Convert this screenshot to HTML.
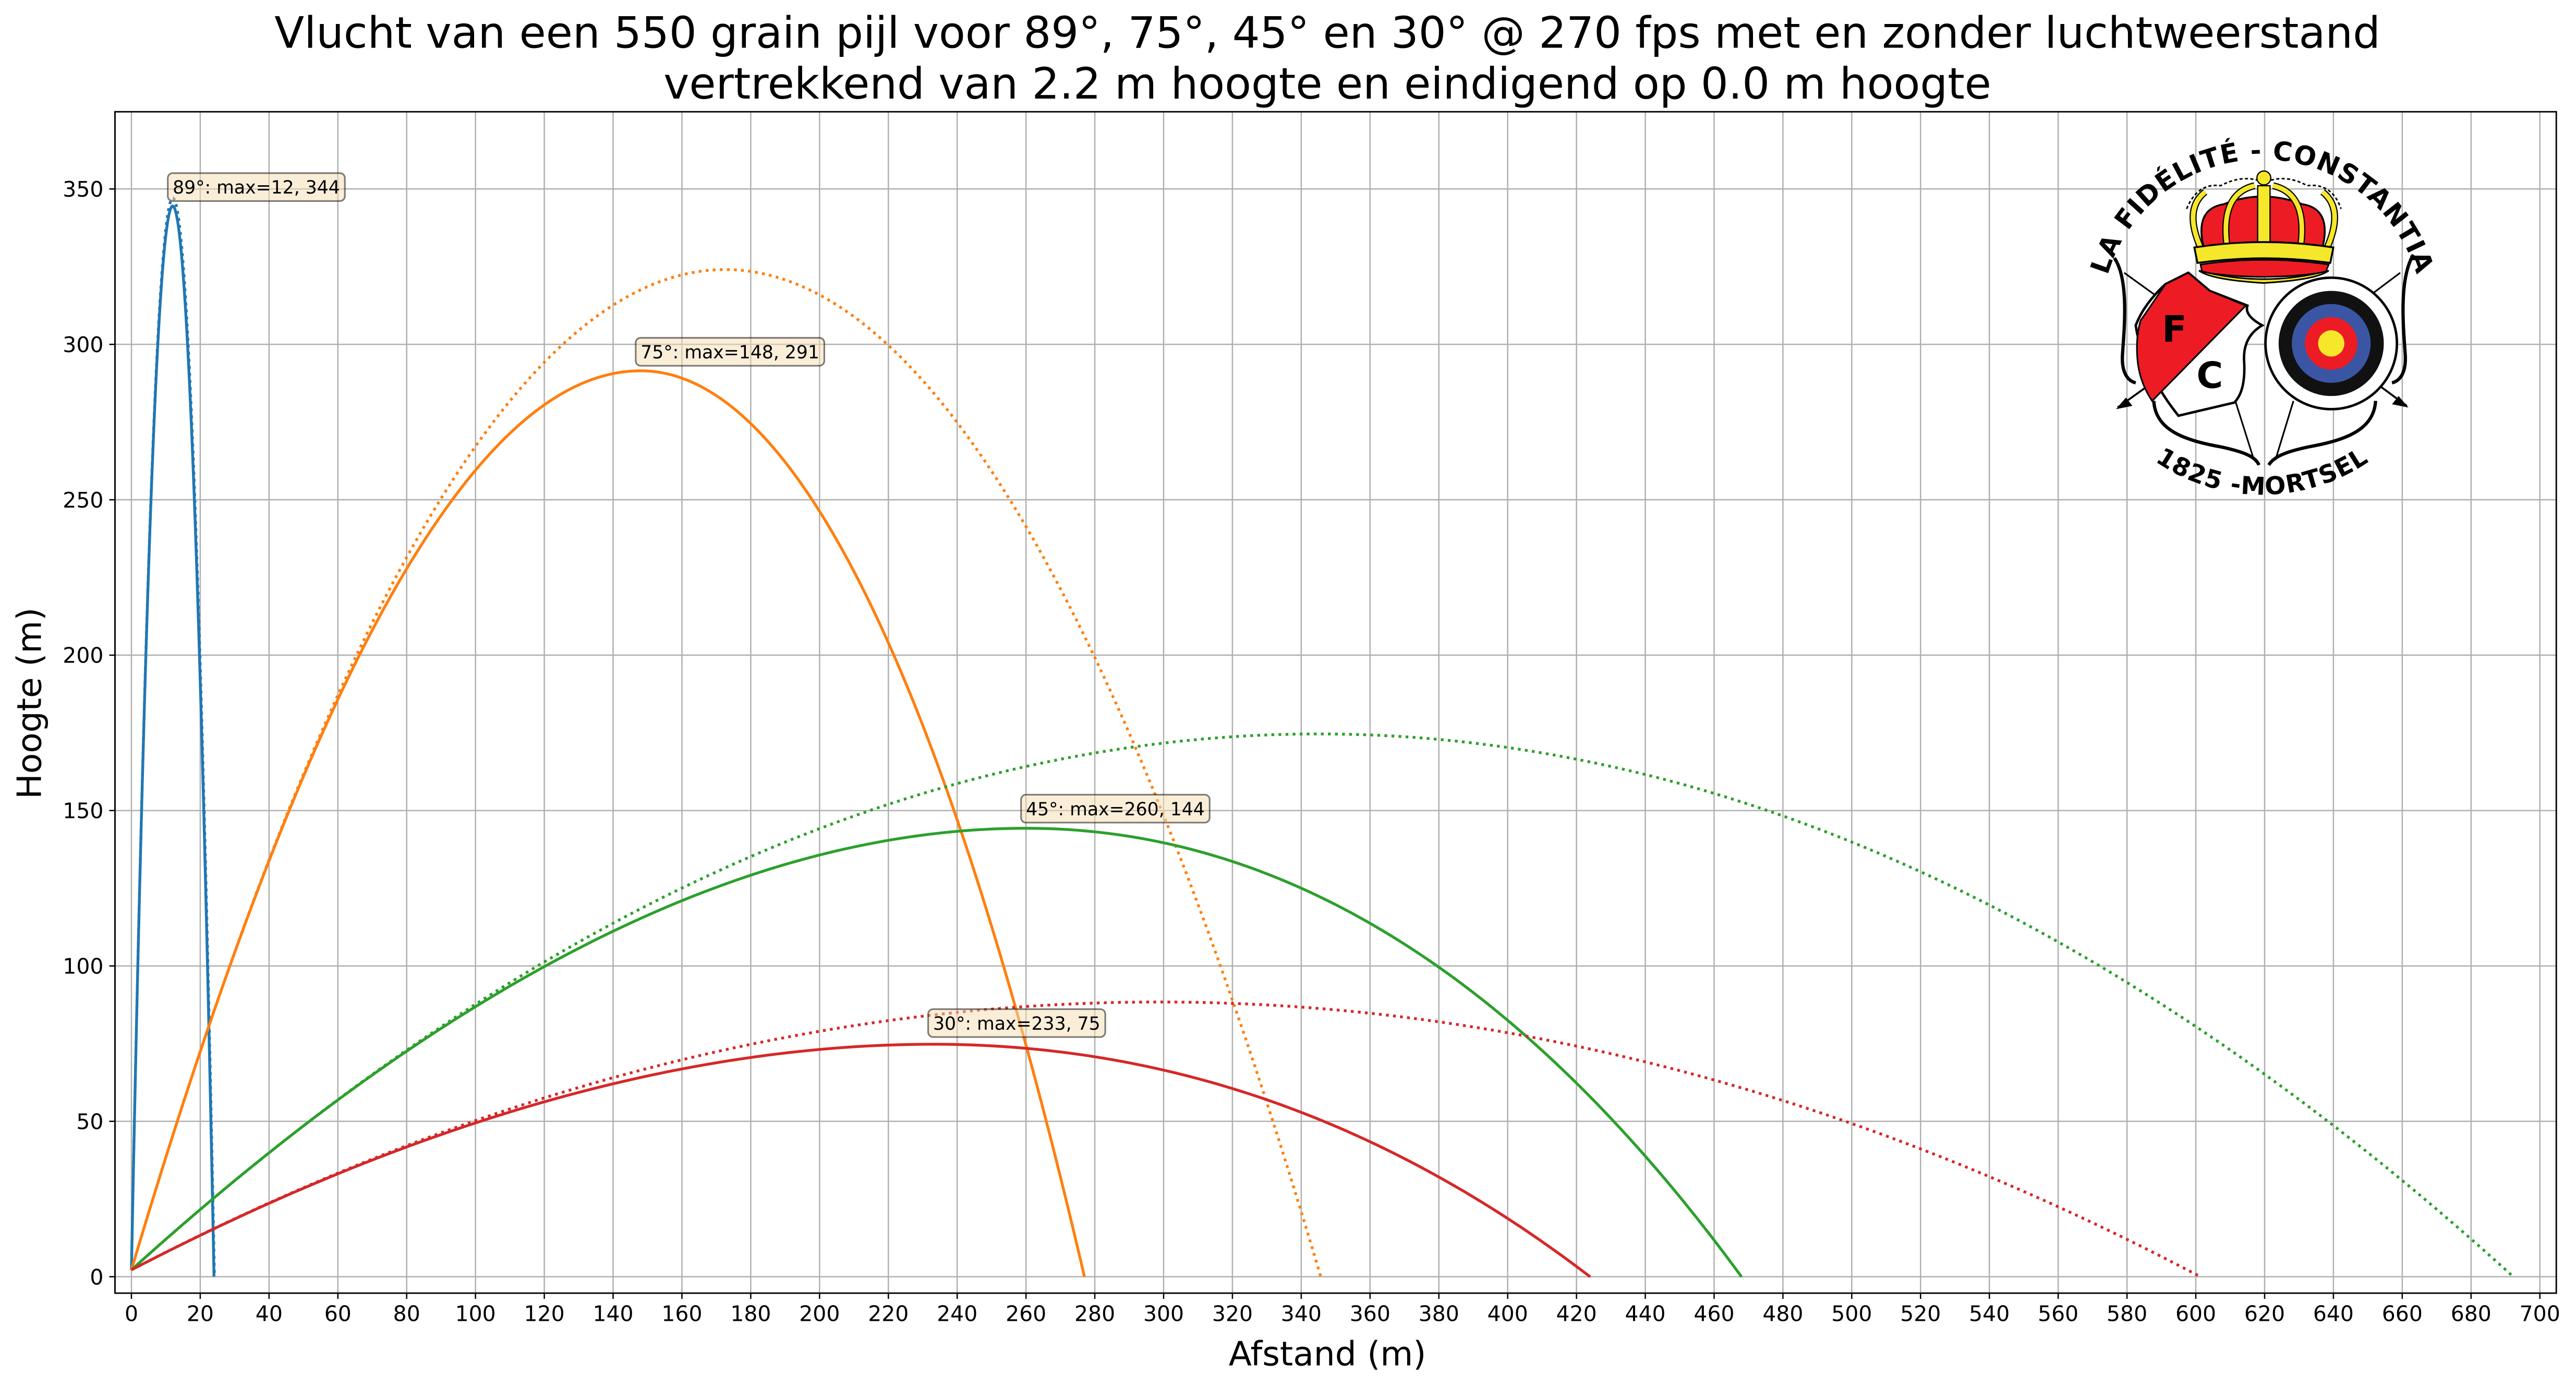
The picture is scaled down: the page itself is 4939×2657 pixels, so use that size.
<!DOCTYPE html>
<html><head><meta charset="utf-8"><style>
html,body{margin:0;padding:0;background:#fff}
svg{display:block}
text{font-family:"DejaVu Sans","Liberation Sans",sans-serif}
</style></head><body>
<svg id="s" width="4939" height="2657" viewBox="0 0 1568 843.5" xmlns="http://www.w3.org/2000/svg">
<rect width="1568" height="843.5" fill="#fff"/>
<g id="grid" stroke="#b0b0b0" stroke-width="0.8"></g>
<g id="curves" fill="none" stroke-width="1.7"></g>
<g id="ann"></g>
<!-- logo -->
<g id="logo">
  <defs>
    <path id="arcTop" d="M 1279 195 A 98 98 0 0 1 1475 195"/>
    <path id="arcBot" d="M 1262 186 A 115 115 0 0 0 1492 186"/>
  </defs>
  <text font-size="16" font-weight="bold" fill="#000" letter-spacing="0.5"><textPath href="#arcTop" startOffset="50%" text-anchor="middle">LA FIDÉLITÉ - CONSTANTIA</textPath></text>
  <text font-size="15" font-weight="bold" fill="#000" letter-spacing="0.5"><textPath href="#arcBot" startOffset="50%" text-anchor="middle">1825 -MORTSEL</textPath></text>
  <!-- bows -->
  <path d="M1287 157 C1296 170,1293 200,1292 215 C1291 228,1296 232,1300 233" fill="none" stroke="#000" stroke-width="2"/>
  <path d="M1311 244 C1312 262,1330 268,1352 272 C1366 275,1373 278,1375 283" fill="none" stroke="#000" stroke-width="2"/>
  <path d="M1469 155 C1460 170,1463 200,1464 215 C1465 228,1460 232,1456 233" fill="none" stroke="#000" stroke-width="2"/>
  <path d="M1446 244 C1445 262,1427 268,1405 272 C1391 275,1384 278,1381 283" fill="none" stroke="#000" stroke-width="2"/>
  <line x1="1293" y1="166" x2="1318" y2="184" stroke="#000" stroke-width="1"/>
  <line x1="1461" y1="166" x2="1445" y2="178" stroke="#000" stroke-width="1"/>
  <line x1="1310" y1="233" x2="1289" y2="248" stroke="#000" stroke-width="1.2"/>
  <line x1="1446" y1="233" x2="1465" y2="247" stroke="#000" stroke-width="1.2"/>
  <path d="M1288 249 l10 -2 l-4 -5 z" fill="#000"/>
  <path d="M1466 248 l-10 -2 l4 -5 z" fill="#000"/>
  <line x1="1360" y1="242" x2="1372" y2="280" stroke="#000" stroke-width="1"/>
  <line x1="1396" y1="244" x2="1385" y2="280" stroke="#000" stroke-width="1"/>
  <!-- crown -->
  <g transform="translate(1378 160) scale(0.94) translate(-1378 -160)">
  <path d="M1339 150 Q1333 125 1352 122 Q1377 112 1403 122 Q1422 125 1416 150 Z" fill="#ed1c24" stroke="#000" stroke-width="1.2"/>
  <g fill="none">
   <path d="M1337 150 Q1326 125 1340 114 M1419 150 Q1430 125 1416 114 M1354 148 Q1350 115 1372 110 M1402 148 Q1406 115 1384 110" stroke="#000" stroke-width="4.5"/>
   <path d="M1337 150 Q1326 125 1340 114 M1419 150 Q1430 125 1416 114 M1354 148 Q1350 115 1372 110 M1402 148 Q1406 115 1384 110" stroke="#f5e72a" stroke-width="3"/>
   <path d="M1328 125 Q1335 108 1350 110 Q1365 102 1378 108 Q1392 102 1406 110 Q1422 108 1428 125" stroke="#000" stroke-width="1" stroke-dasharray="2 1.5"/>
  </g>
  <rect x="1374" y="110" width="8" height="40" fill="#f5e72a" stroke="#000" stroke-width="0.8"/>
  <circle cx="1378" cy="105" r="4.5" fill="#f5e72a" stroke="#000" stroke-width="0.8"/>
  <path d="M1333 150 Q1378 143 1423 150 L1421 160 Q1378 154 1335 160 Z" fill="#f5e72a" stroke="#000" stroke-width="1.2"/>
  <path d="M1337 161 Q1378 155 1420 161 L1418 166 Q1378 172 1338 166 Z" fill="#ed1c24" stroke="#000" stroke-width="1"/>
  <path d="M1336 165 Q1378 176 1420 165 Q1412 171 1378 173 Q1344 171 1336 165 Z" fill="#f5e72a" stroke="#000" stroke-width="1"/>
  </g>
  <!-- shield -->
  <path d="M1318 173 L1332 166 L1345 177 L1368 186 Q1366 192 1377 198 Q1365 205 1366 220 Q1367 238 1360 245 L1326 253 Q1314 238 1309 225 Q1302 212 1300 198 Q1305 185 1318 173 Z" fill="#fff" stroke="#000" stroke-width="1.5"/>
  <path d="M1318 173 L1332 166 L1345 177 L1367 186 L1310 244 Q1302 232 1301 218 Q1300 205 1303 195 Q1310 185 1318 173 Z" fill="#ed1c24" stroke="#000" stroke-width="1"/>
  <text x="1316" y="208" font-size="22" font-weight="bold" fill="#000" font-family="Liberation Sans">F</text>
  <text x="1337" y="236" font-size="22" font-weight="bold" fill="#000" font-family="Liberation Sans">C</text>
  <!-- target -->
  <circle cx="1419" cy="209" r="40" fill="#fff" stroke="#000" stroke-width="1.5"/>
  <circle cx="1419" cy="209" r="32" fill="#111"/>
  <circle cx="1419" cy="209" r="24" fill="#3a55a4"/>
  <circle cx="1419" cy="209" r="16" fill="#ed1c24"/>
  <circle cx="1419" cy="209" r="8" fill="#f5e72a"/>
</g>
<g id="axes"></g>
<text x="808" y="29" font-size="26.4" text-anchor="middle">Vlucht van een 550 grain pijl voor 89°, 75°, 45° en 30° @ 270 fps met en zonder luchtweerstand</text>
<text x="808" y="60" font-size="26.4" text-anchor="middle">vertrekkend van 2.2 m hoogte en eindigend op 0.0 m hoogte</text>
<text x="808" y="831" font-size="20.5" text-anchor="middle">Afstand (m)</text>
<text transform="translate(25,428) rotate(-90)" font-size="20.5" text-anchor="middle">Hoogte (m)</text>
</svg>
<script>
(function(){
var NS="http://www.w3.org/2000/svg";
var L=70,R=1556,T=68,B=787;
function X(m){return 80+m*1466/700;}
function Y(h){return 777-h*662/350;}
function el(t,a,p,txt){var e=document.createElementNS(NS,t);for(var k in a)e.setAttribute(k,a[k]);if(txt!=null)e.textContent=txt;p.appendChild(e);return e;}
var grid=document.getElementById('grid'),axes=document.getElementById('axes');
for(var m=0;m<=700;m+=20){var x=X(m);el('line',{x1:x,y1:T,x2:x,y2:B},grid);
 el('line',{x1:x,y1:B,x2:x,y2:B+3.5,stroke:'#000','stroke-width':0.8},axes);
 el('text',{x:x,y:B+17,'font-size':13,'text-anchor':'middle'},axes,String(m));}
for(var h=0;h<=350;h+=50){var y=Y(h);el('line',{x1:L,y1:y,x2:R,y2:y},grid);
 el('line',{x1:L-3.5,y1:y,x2:L,y2:y,stroke:'#000','stroke-width':0.8},axes);
 el('text',{x:L-7,y:y+4.7,'font-size':13,'text-anchor':'end'},axes,String(h));}
el('rect',{x:L,y:T,width:R-L,height:B-T,fill:'none',stroke:'#000','stroke-width':0.9},axes);
var v=270*0.3048,g=9.81,y0=2.2;
var cols={89:'#1f77b4',75:'#ff7f0e',45:'#2ca02c',30:'#d62728'};
var curves=document.getElementById('curves');
function sim(th,k,keep){var a=th*Math.PI/180,x=0,y=y0,vx=v*Math.cos(a),vy=v*Math.sin(a),dt=0.005,pts=[[x,y]],mx=0,my=0;
 for(var i=0;i<200000;i++){var sp=Math.hypot(vx,vy);var ax=-k*sp*vx,ay=-g-k*sp*vy;vx+=ax*dt;vy+=ay*dt;var nx=x+vx*dt,ny=y+vy*dt;
  if(ny<0){var f=y/(y-ny);nx=x+(nx-x)*f;ny=0;x=nx;y=ny;if(keep)pts.push([x,y]);break;}
  x=nx;y=ny;if(y>my){my=y;mx=x;} if(keep&&i%10==0)pts.push([x,y]);}
 return {r:x,pts:pts,mx:mx,my:my};}
function path(pts){return pts.map(function(p,i){return (i?'L':'M')+X(p[0]).toFixed(2)+' '+Y(p[1]).toFixed(2);}).join('');}
var targets={89:24,75:277,45:468,30:424};
var hmax={89:344.5,75:291.5,45:144.3,30:74.8};
var xmax={89:12,75:148,45:260,30:233};
[89,75,45,30].forEach(function(th){
 var vac=sim(th,0,true);
 el('path',{d:path(vac.pts),stroke:cols[th],'stroke-dasharray':'1.7 2.6'},curves);
 var lo=0,hi=0.01,r;
 if(th==89){lo=0;hi=0.0002;}
 for(var i=0;i<40;i++){var md=(lo+hi)/2;r=sim(th,md,false).r;if(r>targets[th])lo=md;else hi=md;}
 var s=sim(th,(lo+hi)/2,true);
 var R0=s.r, mx=s.mx, tx=xmax[th];
 var pts=s.pts.map(function(p){
   var x=p[0],nx;
   if(x<=mx) nx=x*tx/mx; else nx=tx+(x-mx)*(R0-tx)/(R0-mx);
   if(th==89) nx=x;
   return [nx, y0+(p[1]-y0)*(hmax[th]-y0)/(s.my-y0)];});
 el('path',{d:path(pts),stroke:cols[th]},curves);
});
var anns=[[89,12,344],[75,148,291],[45,260,144],[30,233,75]];
var ann=document.getElementById('ann');
anns.forEach(function(a){
 var px=X(a[1]),py=Y(a[2]);
 var g1=el('g',{},ann);
 var rect=el('rect',{x:px-3,y:py-21,width:80,height:17,rx:3,fill:'#f5deb3','fill-opacity':0.5,stroke:'#000','stroke-opacity':0.5,'stroke-width':1},g1);
 var t=el('text',{x:px,y:py-8.5,'font-size':11},g1,a[0]+'°: max='+a[1]+', '+a[2]);
 try{var w=t.getComputedTextLength();rect.setAttribute('width',w+6);}catch(e){}
});
})();
</script>
</body></html>
